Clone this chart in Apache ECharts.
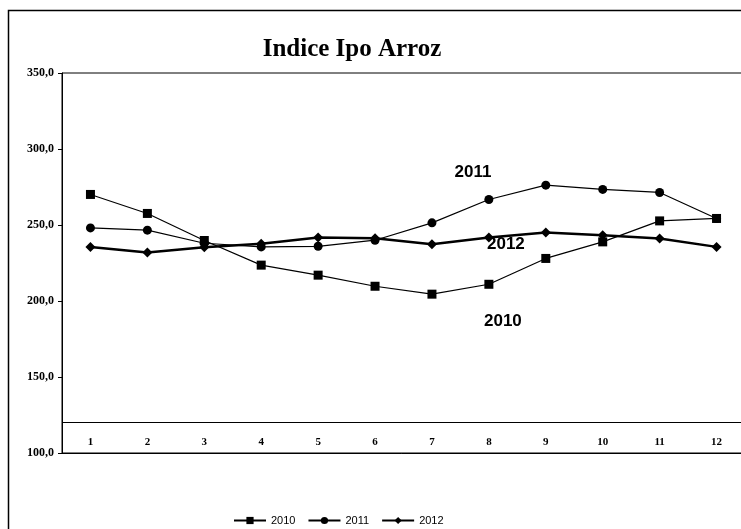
<!DOCTYPE html>
<html>
<head>
<meta charset="utf-8">
<script src="https://cdn.jsdelivr.net/npm/echarts@6/dist/echarts.min.js"></script>
<style>
  html, body { margin: 0; padding: 0; background: #fff; }
  #chart { width: 741px; height: 529px; }
</style>
</head>
<body>
<div id="chart"></div>
<script>
const months = ["1", "2", "3", "4", "5", "6", "7", "8", "9", "10", "11", "12"];
const values2010 = [270.1, 257.6, 239.8, 223.6, 217.0, 209.7, 204.5, 211.0, 228.0, 238.9, 252.7, 254.3];
const values2011 = [248.1, 246.6, 238.0, 235.6, 236.0, 240.0, 251.4, 266.8, 276.2, 273.4, 271.4, 254.3];
const values2012 = [235.6, 231.9, 235.3, 237.6, 241.8, 241.3, 237.4, 241.8, 245.1, 243.3, 241.1, 235.6];
const yTicks = [100, 150, 200, 250, 300, 350];

const chart = echarts.init(document.getElementById("chart"));

function seriesLabel(text, coord, offset) {
  return {
    coord,
    symbolSize: 0,
    label: {
      show: true,
      formatter: text,
      offset,
      color: "#000",
      fontFamily: "Liberation Sans",
      fontWeight: "bold",
      fontSize: 17
    }
  };
}

chart.setOption({
  animation: false,
  backgroundColor: "#fff",
  title: {
    text: "Indice Ipo Arroz",
    left: 347,
    textAlign: "center",
    top: 32,
    textStyle: { fontFamily: "Liberation Serif", fontWeight: "bold", fontSize: 25, color: "#000" }
  },
  graphic: [
    {
      type: "rect",
      shape: { x: 8.5, y: 10.5, width: 800, height: 600 },
      style: { fill: "none", stroke: "#000", lineWidth: 1.5 },
      silent: true
    }
  ],
  grid: {
    left: 62, width: 683, top: 73, bottom: 76,
    outerBoundsMode: "none",
    show: true, borderColor: "#000", borderWidth: 1
  },
  legend: {
    left: 228, top: 510,
    itemWidth: 32, itemHeight: 9, itemGap: 12,
    textStyle: { fontFamily: "Liberation Sans", fontSize: 11, color: "#000" },
    data: ["2010", "2011", "2012"]
  },
  xAxis: {
    type: "category",
    data: months,
    boundaryGap: true,
    axisLine: { show: true, lineStyle: { color: "#000" } },
    axisTick: { show: false },
    axisLabel: {
      inside: true, margin: 5, color: "#000",
      fontFamily: "Liberation Serif", fontWeight: "bold", fontSize: 11
    },
    splitLine: { show: false }
  },
  yAxis: {
    type: "value",
    min: yTicks[0],
    max: yTicks[yTicks.length - 1],
    interval: 50,
    axisLine: { show: true, lineStyle: { color: "#000" } },
    axisTick: { show: true, length: 4, lineStyle: { color: "#000" } },
    axisLabel: {
      color: "#000", margin: 8,
      fontFamily: "Liberation Serif", fontWeight: "bold", fontSize: 12,
      formatter: (v) => v.toFixed(1).replace(".", ",")
    },
    splitLine: { show: false }
  },
  series: [
    {
      name: "2010",
      type: "line",
      data: values2010,
      symbol: "rect",
      symbolSize: 9,
      lineStyle: { color: "#000", width: 1.2 },
      itemStyle: { color: "#000" },
      markLine: {
        silent: true,
        symbol: "none",
        label: { show: false },
        lineStyle: { color: "#000", type: "solid", width: 1 },
        data: [{ yAxis: 120 }]
      },
      markPoint: { data: [seriesLabel("2010", ["8", 186.7], [14, 0])] }
    },
    {
      name: "2011",
      type: "line",
      data: values2011,
      symbol: "circle",
      symbolSize: 9,
      lineStyle: { color: "#000", width: 1.2 },
      itemStyle: { color: "#000" },
      markPoint: { data: [seriesLabel("2011", ["7", 284.8], [41, 0])] }
    },
    {
      name: "2012",
      type: "line",
      data: values2012,
      symbol: "diamond",
      symbolSize: 10,
      lineStyle: { color: "#000", width: 2.5 },
      itemStyle: { color: "#000" },
      markPoint: { data: [seriesLabel("2012", ["8", 237.4], [17, 0])] }
    }
  ]
});
</script>
</body>
</html>
